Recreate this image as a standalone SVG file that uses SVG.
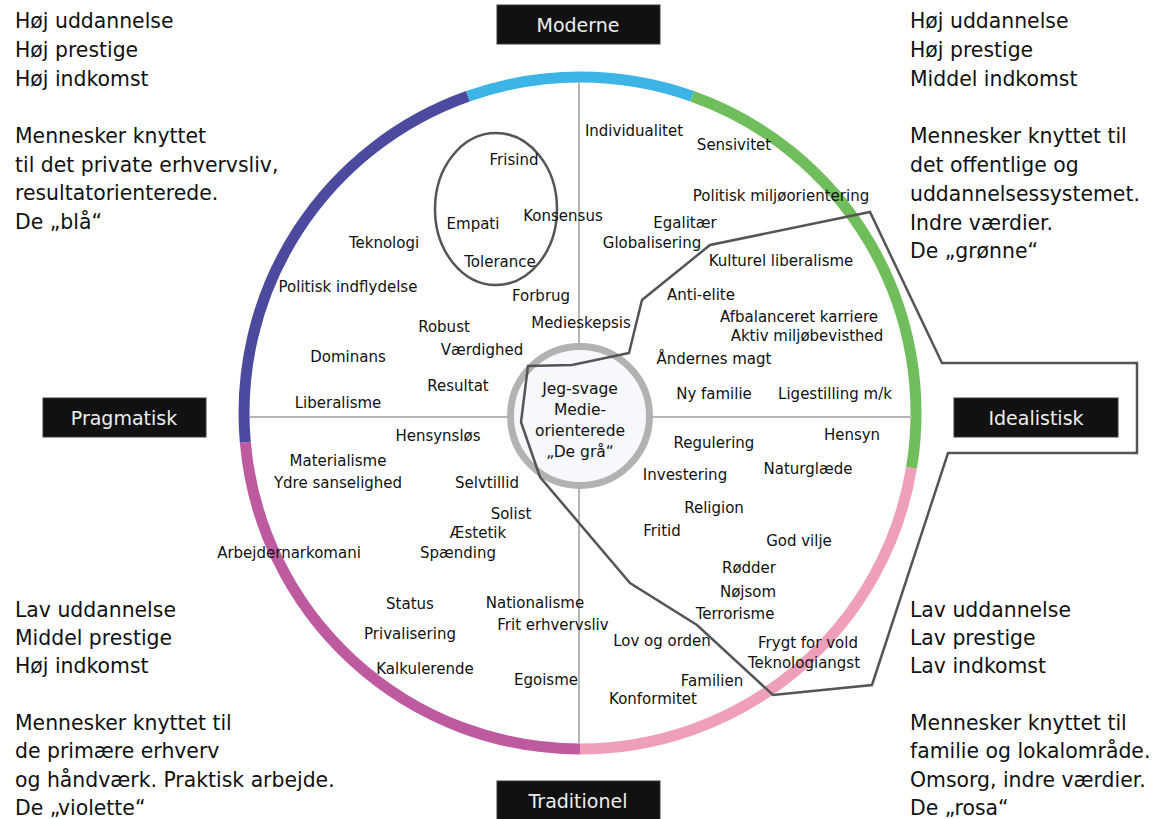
<svg xmlns="http://www.w3.org/2000/svg" width="1173" height="819" viewBox="0 0 1173 819">
<style>
.panel{font-family:"DejaVu Sans","Liberation Sans",sans-serif;font-size:20.4px;fill:#111}
.lbl{font-family:"DejaVu Sans","Liberation Sans",sans-serif;font-size:15px;fill:#111;text-anchor:middle}
.ctr{font-family:"DejaVu Sans","Liberation Sans",sans-serif;font-size:15.5px;fill:#111;text-anchor:middle}
.box{fill:#111;stroke:#3a3a3a;stroke-width:1}
.boxt{font-family:"DejaVu Sans","Liberation Sans",sans-serif;font-size:19px;fill:#eee;text-anchor:middle}
.seg{fill:none;stroke-width:11}
.axis{stroke:#b5b5b5;stroke-width:2}
.outline{fill:none;stroke:#555;stroke-width:2.5;stroke-linejoin:miter}
</style>
<rect width="1173" height="819" fill="#fff"/>
<g id="ring">
<path class="seg" stroke="#3cb5e6" d="M467.8,96.3 A336,336 0 0 1 692.2,96.3"/>
<path class="seg" stroke="#6fbd5b" d="M692.2,96.3 A336,336 0 0 1 911.5,467.9"/>
<path class="seg" stroke="#f09fbb" d="M911.5,467.9 A336,336 0 0 1 580,749"/>
<path class="seg" stroke="#bd5aa0" d="M580,749 A336,336 0 0 1 245.3,442.3"/>
<path class="seg" stroke="#4c4a9e" d="M245.3,442.3 A336,336 0 0 1 467.8,96.3"/>
</g>
<g id="axes">
<line class="axis" x1="579" y1="82" x2="579" y2="744"/>
<line class="axis" x1="250" y1="417" x2="912" y2="417"/>
</g>
<g id="center">
<circle cx="580" cy="416" r="69.5" fill="#f6f8fb" stroke="#b3b1b1" stroke-width="7"/>
<text class="ctr" x="580" y="394">Jeg-svage</text>
<text class="ctr" x="580" y="415">Medie-</text>
<text class="ctr" x="580" y="436">orienterede</text>
<text class="ctr" x="580" y="457">„De grå“</text>
</g>
<g id="connectors">
<ellipse class="outline" cx="496" cy="209" rx="61" ry="76" stroke-width="2"/>
<polygon class="outline" points="629,353 572,365 528,366 521,422 540,477 630,583 697,625 773,695 872,685 948,453 1137,453 1137,363 942,363 870,212 710,245 642,300"/>
</g>
<g id="labels">
<text class="lbl" x="634" y="136">Individualitet</text>
<text class="lbl" x="734" y="150">Sensivitet</text>
<text class="lbl" x="781" y="201">Politisk miljøorientering</text>
<text class="lbl" x="685" y="228">Egalitær</text>
<text class="lbl" x="652" y="248">Globalisering</text>
<text class="lbl" x="781" y="266">Kulturel liberalisme</text>
<text class="lbl" x="701" y="300">Anti-elite</text>
<text class="lbl" x="799" y="322">Afbalanceret karriere</text>
<text class="lbl" x="807" y="341">Aktiv miljøbevisthed</text>
<text class="lbl" x="714" y="364">Åndernes magt</text>
<text class="lbl" x="714" y="399">Ny familie</text>
<text class="lbl" x="835" y="399">Ligestilling m/k</text>
<text class="lbl" x="514" y="165">Frisind</text>
<text class="lbl" x="473" y="229">Empati</text>
<text class="lbl" x="563" y="221">Konsensus</text>
<text class="lbl" x="500" y="267">Tolerance</text>
<text class="lbl" x="384" y="248">Teknologi</text>
<text class="lbl" x="348" y="292">Politisk indflydelse</text>
<text class="lbl" x="541" y="301">Forbrug</text>
<text class="lbl" x="444" y="332">Robust</text>
<text class="lbl" x="581" y="328">Medieskepsis</text>
<text class="lbl" x="482" y="355">Værdighed</text>
<text class="lbl" x="348" y="362">Dominans</text>
<text class="lbl" x="458" y="391">Resultat</text>
<text class="lbl" x="338" y="408">Liberalisme</text>
<text class="lbl" x="438" y="441">Hensynsløs</text>
<text class="lbl" x="338" y="466">Materialisme</text>
<text class="lbl" x="338" y="488">Ydre sanselighed</text>
<text class="lbl" x="487" y="488">Selvtillid</text>
<text class="lbl" x="511" y="519">Solist</text>
<text class="lbl" x="478" y="538">Æstetik</text>
<text class="lbl" x="458" y="558">Spænding</text>
<text class="lbl" x="289" y="558">Arbejdernarkomani</text>
<text class="lbl" x="410" y="609">Status</text>
<text class="lbl" x="535" y="608">Nationalisme</text>
<text class="lbl" x="553" y="630">Frit erhvervsliv</text>
<text class="lbl" x="410" y="639">Privalisering</text>
<text class="lbl" x="425" y="674">Kalkulerende</text>
<text class="lbl" x="546" y="685">Egoisme</text>
<text class="lbl" x="714" y="448">Regulering</text>
<text class="lbl" x="852" y="440">Hensyn</text>
<text class="lbl" x="685" y="480">Investering</text>
<text class="lbl" x="808" y="474">Naturglæde</text>
<text class="lbl" x="714" y="513">Religion</text>
<text class="lbl" x="662" y="536">Fritid</text>
<text class="lbl" x="799" y="546">God vilje</text>
<text class="lbl" x="749" y="573">Rødder</text>
<text class="lbl" x="748" y="597">Nøjsom</text>
<text class="lbl" x="735" y="619">Terrorisme</text>
<text class="lbl" x="662" y="646">Lov og orden</text>
<text class="lbl" x="808" y="648">Frygt for vold</text>
<text class="lbl" x="804" y="668">Teknologiangst</text>
<text class="lbl" x="712" y="686">Familien</text>
<text class="lbl" x="653" y="704">Konformitet</text>
</g>
<g id="node-moderne">
<rect class="box" x="497" y="5" width="163" height="39"/>
<text class="boxt" x="578" y="32">Moderne</text>
</g>
<g id="node-traditionel">
<rect class="box" x="497" y="781" width="163" height="45"/>
<text class="boxt" x="578" y="808">Traditionel</text>
</g>
<g id="node-pragmatisk">
<rect class="box" x="43" y="398" width="163" height="39"/>
<text class="boxt" x="124" y="425">Pragmatisk</text>
</g>
<g id="node-idealistisk">
<rect class="box" x="954" y="398" width="164" height="39"/>
<text class="boxt" x="1036" y="425">Idealistisk</text>
</g>
<g id="panel-blaa">
<text class="panel" x="15" y="28">Høj uddannelse</text>
<text class="panel" x="15" y="57">Høj prestige</text>
<text class="panel" x="15" y="86">Høj indkomst</text>
<text class="panel" x="15" y="143">Mennesker knyttet</text>
<text class="panel" x="15" y="172">til det private erhvervsliv,</text>
<text class="panel" x="15" y="200">resultatorienterede.</text>
<text class="panel" x="15" y="229">De „blå“</text>
</g>
<g id="panel-groenne">
<text class="panel" x="910" y="28">Høj uddannelse</text>
<text class="panel" x="910" y="57">Høj prestige</text>
<text class="panel" x="910" y="86">Middel indkomst</text>
<text class="panel" x="910" y="143">Mennesker knyttet til</text>
<text class="panel" x="910" y="172">det offentlige og</text>
<text class="panel" x="910" y="201">uddannelsessystemet.</text>
<text class="panel" x="910" y="230">Indre værdier.</text>
<text class="panel" x="910" y="258">De „grønne“</text>
</g>
<g id="panel-violette">
<text class="panel" x="15" y="617">Lav uddannelse</text>
<text class="panel" x="15" y="645">Middel prestige</text>
<text class="panel" x="15" y="673">Høj indkomst</text>
<text class="panel" x="15" y="730">Mennesker knyttet til</text>
<text class="panel" x="15" y="758">de primære erhverv</text>
<text class="panel" x="15" y="787">og håndværk. Praktisk arbejde.</text>
<text class="panel" x="15" y="815">De „violette“</text>
</g>
<g id="panel-rosa">
<text class="panel" x="910" y="617">Lav uddannelse</text>
<text class="panel" x="910" y="645">Lav prestige</text>
<text class="panel" x="910" y="673">Lav indkomst</text>
<text class="panel" x="910" y="730">Mennesker knyttet til</text>
<text class="panel" x="910" y="758">familie og lokalområde.</text>
<text class="panel" x="910" y="787">Omsorg, indre værdier.</text>
<text class="panel" x="910" y="815">De „rosa“</text>
</g>
</svg>
